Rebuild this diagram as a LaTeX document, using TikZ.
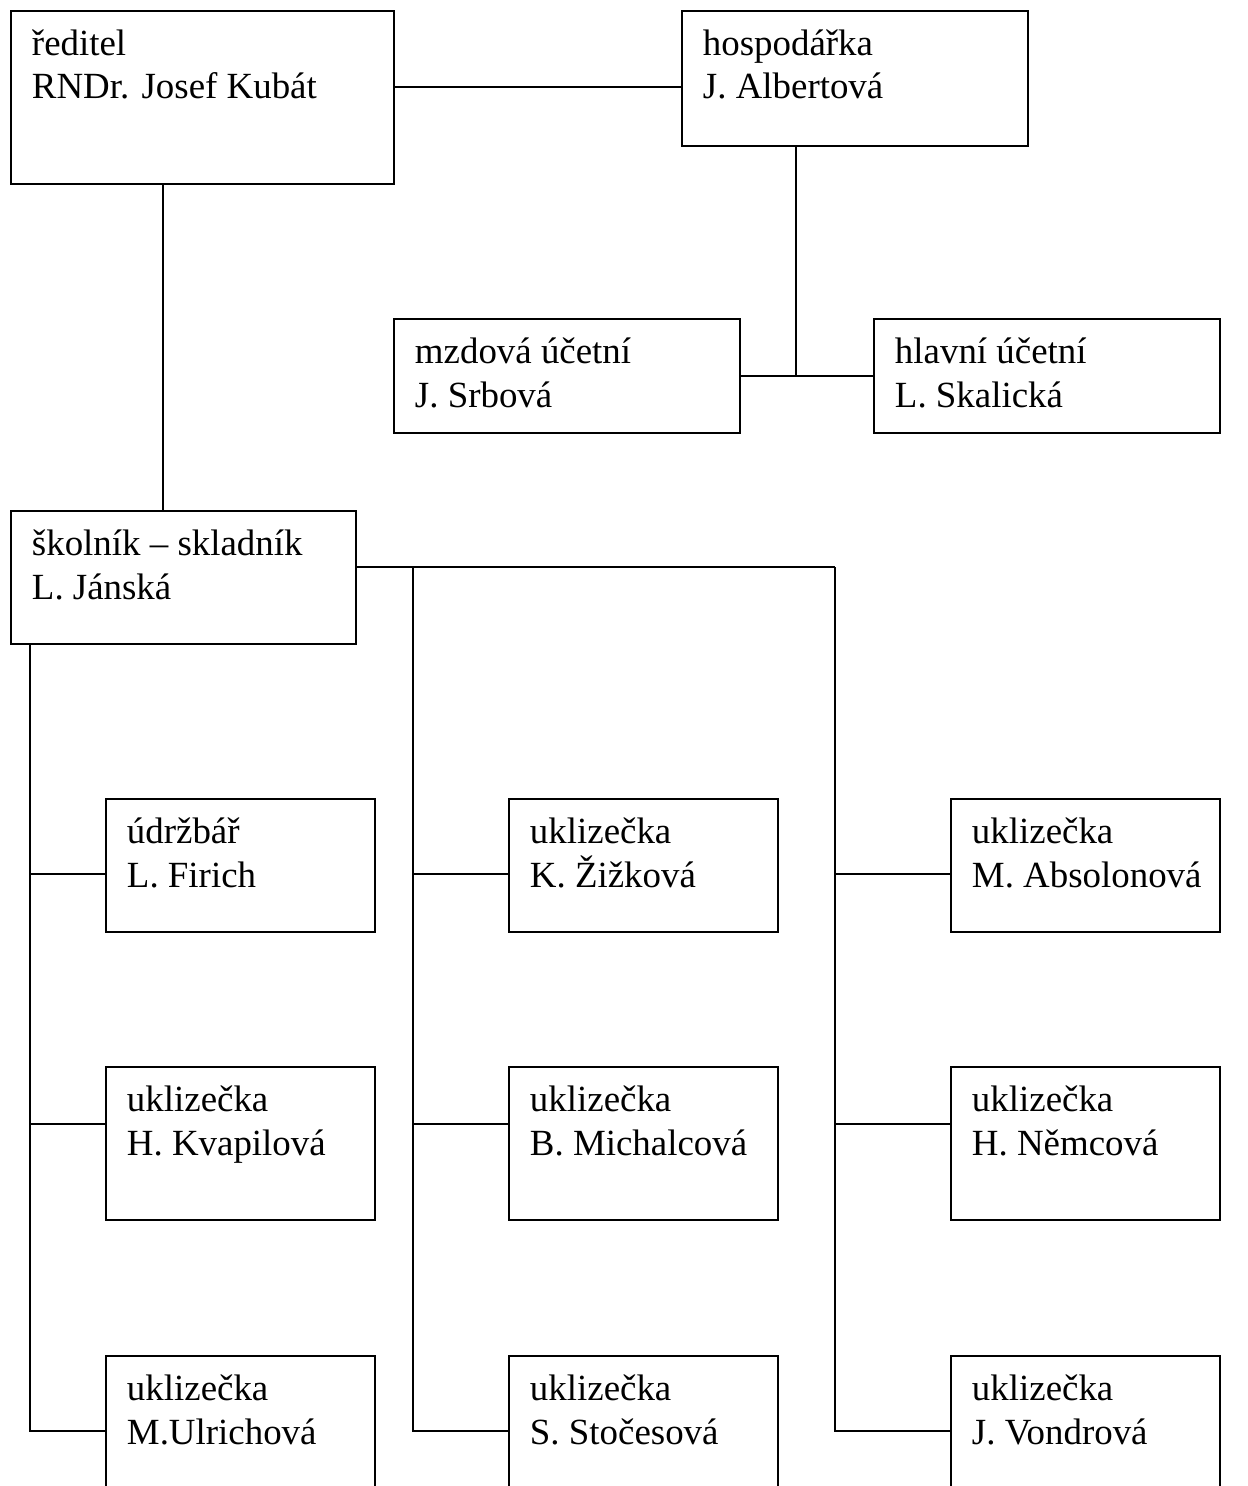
\documentclass[tikz,border=0pt]{standalone}
\usepackage{fontspec}
\setmainfont{Liberation Serif}
\usetikzlibrary{calc}

% one box of the chart: name, left, top, width, height, text
\newcommand{\unitbox}[6]{%
  \node[unit, minimum width=#4*0.02cm, minimum height=#5*0.02cm] (#1) at (#2,#3) {};
  \node[unittext] (#1-t) at ($(#1.north west)+(21,89)$) {#6};}

\begin{document}
\begin{tikzpicture}[x=0.02cm, y=-0.02cm, line width=1.1pt,
  unit/.style={draw, rectangle, anchor=north west, inner sep=0pt},
  unittext/.style={anchor=base west, align=left, inner sep=0pt,
    font=\fontsize{21}{25}\selectfont}]
\useasboundingbox (0,0) rectangle (1247,1486);
\clip (0,0) rectangle (1247,1486);

% vedeni
\unitbox{dir}{10}{10}{383}{173}{ředitel\\RNDr. Josef Kubát}
\unitbox{hosp}{681}{10}{346}{135}{hospodářka\\J. Albertová}
\unitbox{mzd}{393}{318}{346}{114}{mzdová účetní\\J. Srbová}
\unitbox{hlav}{873}{318}{346}{114}{hlavní účetní\\L. Skalická}
\unitbox{skol}{10}{510}{345}{133}{školník – skladník\\L. Jánská}

% provozni zamestnanci
\foreach \n/\x/\y/\h/\t in {
    a1/105/798/133/{údržbář\\L. Firich},
    a2/105/1066/153/{uklizečka\\H. Kvapilová},
    a3/105/1355/200/{uklizečka\\M.Ulrichová},
    b1/508/798/133/{uklizečka\\K. Žižková},
    b2/508/1066/153/{uklizečka\\B. Michalcová},
    b3/508/1355/200/{uklizečka\\S. Stočesová},
    c1/950/798/133/{uklizečka\\M. Absolonová},
    c2/950/1066/153/{uklizečka\\H. Němcová},
    c3/950/1355/200/{uklizečka\\J. Vondrová}}
  \unitbox{\n}{\x}{\y}{269}{\h}{\t};

% spojnice
\coordinate (yd) at (0,87);
\coordinate (jh) at (796,375);
\coordinate (xd) at (163,0);
\coordinate (ys) at (0,567);
\coordinate (v1) at (30,0);
\coordinate (v2) at (413,0);
\coordinate (v3) at (835,0);
\coordinate (r1) at (0,874);
\coordinate (r2) at (0,1124);
\coordinate (r3) at (0,1431);

\draw (dir.east |- yd) -- (hosp.west |- yd);
\draw (hosp.south -| jh) -- (jh);
\draw (mzd.east) -- (hlav.west);
\draw (dir.south -| xd) -- (skol.north -| xd);
\draw (skol.east |- ys) -- (v3 |- ys);
\draw (skol.south -| v1) -- (v1 |- r3) -- (a3.west |- r3);
\draw (v2 |- ys) -- (v2 |- r3) -- (b3.west |- r3);
\draw (v3 |- ys) -- (v3 |- r3) -- (c3.west |- r3);
\foreach \v/\c in {v1/a, v2/b, v3/c} {
  \draw (\v |- r1) -- (\c1.west |- r1);
  \draw (\v |- r2) -- (\c2.west |- r2);
}
\end{tikzpicture}
\end{document}
